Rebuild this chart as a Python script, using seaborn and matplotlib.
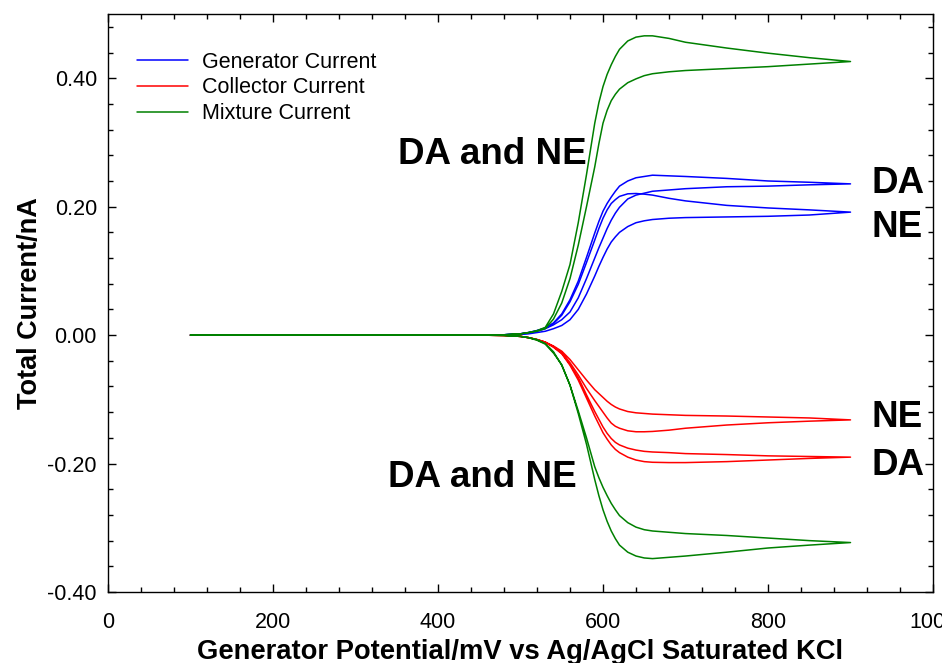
import matplotlib
matplotlib.use("Agg")
import matplotlib.pyplot as plt
import numpy as np
import pandas as pd
import seaborn as sns
from matplotlib.ticker import MultipleLocator, FormatStrFormatter

# ---------------- data ----------------
potential = [100, 300, 450, 480, 500, 510, 520, 530, 540, 550, 560, 570, 580,
             590, 595, 600, 605, 610, 615, 620, 630, 640, 650, 660, 680, 700, 750, 800, 850, 900]

# Generator current, DA loop (forward = peaked, reverse = inner)
gen_da_fwd = [0, 0, 0, 0.0005, 0.002, 0.004, 0.007, 0.011, 0.019, 0.033, 0.055, 0.084, 0.121,
              0.159, 0.177, 0.193, 0.205, 0.215, 0.224, 0.232, 0.240, 0.245, 0.247, 0.249, 0.248, 0.247, 0.244, 0.240, 0.238, 0.2355]
gen_da_rev = [0, 0, 0, 0.0005, 0.002, 0.003, 0.006, 0.010, 0.016, 0.024, 0.036, 0.058, 0.088,
              0.120, 0.136, 0.151, 0.166, 0.179, 0.190, 0.199, 0.212, 0.218, 0.221, 0.224, 0.226, 0.228, 0.231, 0.232, 0.234, 0.2355]
# Generator current, NE loop
gen_ne_fwd = [0, 0, 0, 0.0005, 0.002, 0.004, 0.007, 0.011, 0.018, 0.031, 0.052, 0.079, 0.113,
              0.148, 0.166, 0.182, 0.195, 0.205, 0.211, 0.216, 0.220, 0.2205, 0.2195, 0.218, 0.213, 0.209, 0.202, 0.198, 0.195, 0.1915]
gen_ne_rev = [0, 0, 0, 0.0003, 0.001, 0.002, 0.004, 0.006, 0.010, 0.015, 0.024, 0.040, 0.064,
              0.092, 0.107, 0.121, 0.134, 0.145, 0.153, 0.160, 0.169, 0.175, 0.178, 0.180, 0.182, 0.183, 0.184, 0.185, 0.187, 0.1915]

# Collector current, NE loop
col_ne_fwd = [0, 0, 0, -0.0005, -0.002, -0.004, -0.007, -0.011, -0.018, -0.027, -0.043, -0.062, -0.083,
              -0.102, -0.111, -0.120, -0.129, -0.137, -0.142, -0.145, -0.149, -0.1505, -0.1505, -0.150, -0.148, -0.145, -0.140, -0.1365, -0.134, -0.132]
col_ne_rev = [0, 0, 0, -0.0005, -0.002, -0.004, -0.007, -0.011, -0.017, -0.025, -0.038, -0.054, -0.070,
              -0.085, -0.091, -0.097, -0.103, -0.108, -0.112, -0.115, -0.119, -0.121, -0.122, -0.123, -0.124, -0.125, -0.126, -0.1275, -0.129, -0.132]
# Collector current, DA loop
col_da_fwd = [0, 0, 0, -0.0005, -0.002, -0.004, -0.007, -0.011, -0.019, -0.029, -0.047, -0.070, -0.098,
              -0.126, -0.139, -0.152, -0.162, -0.171, -0.178, -0.183, -0.190, -0.1945, -0.197, -0.198, -0.1985, -0.1985, -0.197, -0.1945, -0.192, -0.190]
col_da_rev = [0, 0, 0, -0.0005, -0.002, -0.004, -0.007, -0.011, -0.018, -0.028, -0.045, -0.066, -0.093,
              -0.119, -0.131, -0.143, -0.153, -0.161, -0.167, -0.171, -0.176, -0.179, -0.181, -0.182, -0.183, -0.1845, -0.186, -0.188, -0.189, -0.190]

# Mixture current (DA and NE), generator side
mix_gen_fwd = [0, 0, 0, 0.0005, 0.002, 0.004, 0.007, 0.012, 0.033, 0.068, 0.110, 0.175, 0.250,
               0.330, 0.362, 0.387, 0.406, 0.421, 0.434, 0.445, 0.458, 0.464, 0.466, 0.466, 0.462, 0.456, 0.447, 0.439, 0.432, 0.426]
mix_gen_rev = [0, 0, 0, 0.0005, 0.002, 0.004, 0.006, 0.010, 0.025, 0.050, 0.088, 0.140, 0.200,
               0.262, 0.298, 0.330, 0.350, 0.365, 0.375, 0.383, 0.393, 0.399, 0.404, 0.407, 0.410, 0.412, 0.415, 0.418, 0.422, 0.426]
# Mixture current, collector side
mix_col_fwd = [0, 0, 0, -0.0005, -0.002, -0.004, -0.008, -0.014, -0.028, -0.046, -0.078, -0.122, -0.170,
               -0.225, -0.250, -0.272, -0.290, -0.305, -0.317, -0.327, -0.338, -0.344, -0.347, -0.348, -0.346, -0.344, -0.338, -0.3315, -0.327, -0.323]
mix_col_rev = [0, 0, 0, -0.0005, -0.002, -0.004, -0.007, -0.013, -0.026, -0.047, -0.078, -0.118, -0.160,
               -0.205, -0.222, -0.237, -0.250, -0.262, -0.272, -0.281, -0.292, -0.299, -0.303, -0.305, -0.307, -0.309, -0.312, -0.316, -0.320, -0.323]

series_names = ["Generator Current", "Collector Current", "Mixture Current"]
series_colors = ["#0000ff", "#ff0000", "#008000"]

x_ticks_major = [0, 200, 400, 600, 800, 1000]
y_ticks_major = [-0.40, -0.20, 0.00, 0.20, 0.40]

annotations = [
    ("DA and NE", 351, 0.266),
    ("DA and NE", 339, -0.2366),
    ("DA", 925, 0.221),
    ("NE", 925, 0.1525),
    ("NE", 925, -0.1432),
    ("DA", 926, -0.2179),
]

# ---------------- long-form table ----------------
loops = [
    ("Generator Current", "gen_da", gen_da_fwd, gen_da_rev),
    ("Generator Current", "gen_ne", gen_ne_fwd, gen_ne_rev),
    ("Collector Current", "col_ne", col_ne_fwd, col_ne_rev),
    ("Collector Current", "col_da", col_da_fwd, col_da_rev),
    ("Mixture Current", "mix_gen", mix_gen_fwd, mix_gen_rev),
    ("Mixture Current", "mix_col", mix_col_fwd, mix_col_rev),
]
rows = []
for kind, name, fwd, rev in loops:
    xs = list(potential) + list(potential[::-1])
    ys = list(fwd) + list(rev[::-1])
    for x, y in zip(xs, ys):
        rows.append({"potential": x, "current": y, "kind": kind, "trace": name})
df = pd.DataFrame(rows)

# ---------------- style ----------------
sns.set_style("ticks")
plt.rcParams["font.family"] = ["Liberation Sans", "DejaVu Sans"]
plt.rcParams["text.color"] = "black"
plt.rcParams["axes.labelcolor"] = "black"
plt.rcParams["xtick.color"] = "black"
plt.rcParams["ytick.color"] = "black"
plt.rcParams["axes.edgecolor"] = "black"

fig = plt.figure(figsize=(9.42, 6.63), dpi=100)
ax = fig.add_axes([108 / 942, 71 / 663, 825 / 942, 578 / 663])

sns.lineplot(data=df, x="potential", y="current", hue="kind", hue_order=series_names,
             units="trace", estimator=None, sort=False,
             palette=dict(zip(series_names, series_colors)), linewidth=1.1, ax=ax)

ax.set_xlim(0, 1000)
ax.set_ylim(-0.40, 0.50)
ax.set_xticks(x_ticks_major)
ax.set_yticks(y_ticks_major)
ax.xaxis.set_minor_locator(MultipleLocator(40))
ax.yaxis.set_minor_locator(MultipleLocator(0.04))
ax.yaxis.set_major_formatter(FormatStrFormatter("%.2f"))

ax.tick_params(which="both", direction="in", top=True, right=True, width=1.0)
ax.tick_params(which="major", length=6)
ax.tick_params(which="minor", length=3.6)
ax.tick_params(axis="x", which="major", labelsize=15.5, pad=14.5)
ax.tick_params(axis="y", which="major", labelsize=15.5, pad=8)
for sp in ax.spines.values():
    sp.set_linewidth(1.0)
    sp.set_color("black")

ax.set_xlabel("Generator Potential/mV vs Ag/AgCl Saturated KCl", fontsize=19.7,
              fontweight="bold", labelpad=4)
ax.set_ylabel("Total Current/nA", fontsize=19.5, fontweight="bold", labelpad=3)

handles, labels = ax.get_legend_handles_labels()
leg = ax.legend(handles, labels, loc="upper left", bbox_to_anchor=(0.035, 0.935),
                frameon=False, fontsize=15.5, handlelength=2.37, handletextpad=0.65,
                labelspacing=0.22, borderpad=0, borderaxespad=0)
for h in leg.get_lines():
    h.set_linewidth(1.1)

for txt, x, y in annotations:
    ax.text(x, y, txt, fontsize=26.5, fontweight="bold", ha="left", va="baseline",
            clip_on=False)

fig.savefig("out.png", dpi=100)
